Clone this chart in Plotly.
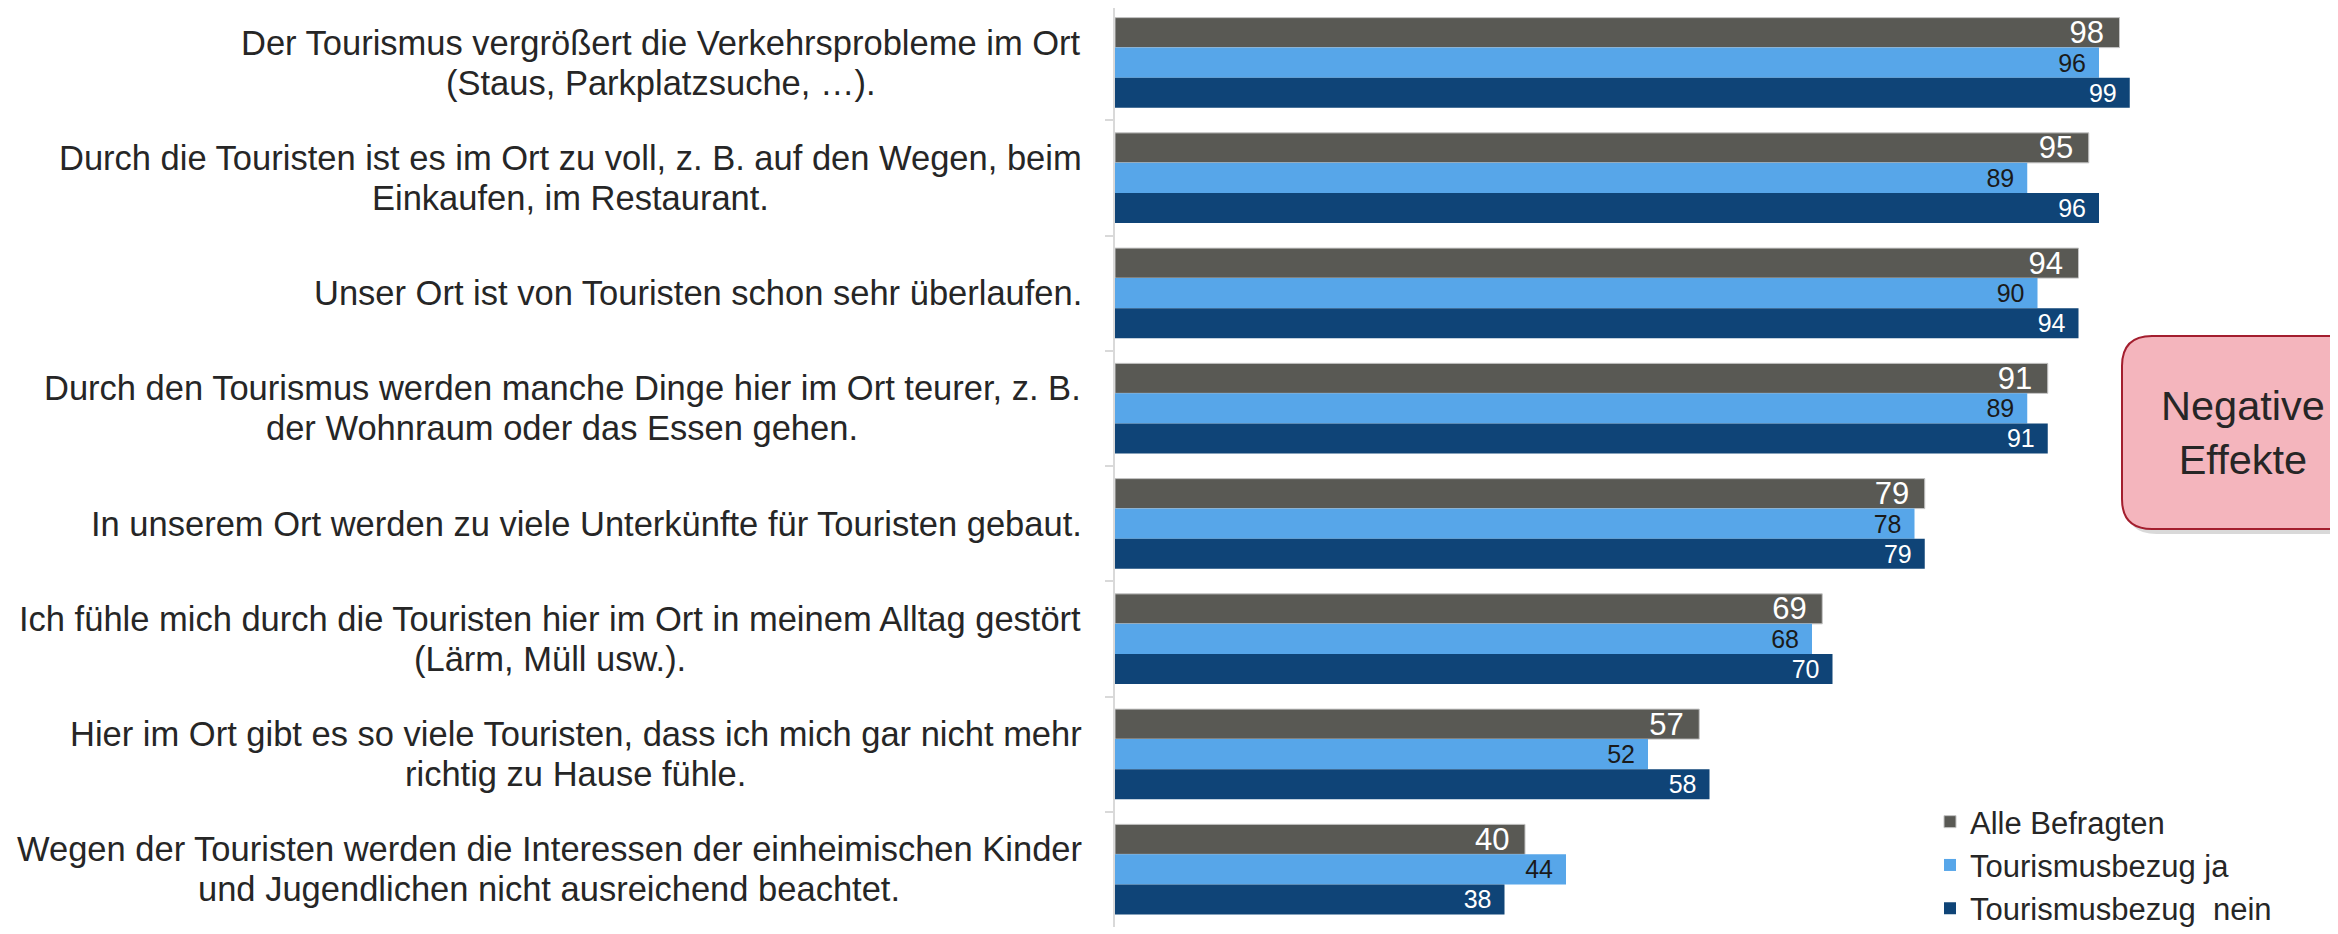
import plotly.graph_objects as go

categories = [
    "Der Tourismus vergrößert die Verkehrsprobleme im Ort<br>(Staus, Parkplatzsuche, …).",
    "Durch die Touristen ist es im Ort zu voll, z. B. auf den Wegen, beim<br>Einkaufen, im Restaurant.",
    "Unser Ort ist von Touristen schon sehr überlaufen.",
    "Durch den Tourismus werden manche Dinge hier im Ort teurer, z. B.<br>der Wohnraum oder das Essen gehen.",
    "In unserem Ort werden zu viele Unterkünfte für Touristen gebaut.",
    "Ich fühle mich durch die Touristen hier im Ort in meinem Alltag gestört<br>(Lärm, Müll usw.).",
    "Hier im Ort gibt es so viele Touristen, dass ich mich gar nicht mehr<br>richtig zu Hause fühle.",
    "Wegen der Touristen werden die Interessen der einheimischen Kinder<br>und Jugendlichen nicht ausreichend beachtet.",
]
alle_befragten = [98, 95, 94, 91, 79, 69, 57, 40]
bezug_ja = [96, 89, 90, 89, 78, 68, 52, 44]
bezug_nein = [99, 96, 94, 91, 79, 70, 58, 38]
series_names = ["Alle Befragten", "Tourismusbezug ja", "Tourismusbezug\u00a0 nein"]
box_text = "Negative<br>Effekte"

FONT = "Liberation Sans, Arial, sans-serif"
OFF = 8                      # page offset of the figure (body margin)
W, H = 2338 - OFF, 934 - OFF
Lf, Rf, Tf, Bf = 1107, 2132, 0, 919   # plot area in figure pixels


def px_x(p):  # reference page pixel -> paper x
    return (p - OFF - Lf) / (Rf - Lf)


def px_y(p):  # reference page pixel -> paper y
    return (Bf - (p - OFF)) / (Bf - Tf)


# Arial / Liberation Sans advance widths (em) for centering label lines
_W = {
    **{c: .556 for c in "abdeghnopquäöü0123456789"},
    "c": .5, "f": .278, "i": .222, "j": .222, "k": .5, "l": .222, "m": .833,
    "r": .333, "s": .5, "t": .278, "v": .5, "w": .722, "x": .5, "y": .5, "z": .5,
    "A": .667, "B": .667, "C": .722, "D": .722, "E": .667, "F": .611, "G": .778,
    "H": .722, "I": .278, "J": .5, "K": .667, "L": .556, "M": .833, "N": .722,
    "O": .778, "P": .667, "R": .722, "S": .667, "T": .611, "U": .722, "V": .667,
    "W": .944, "Z": .611, "ß": .611, " ": .278, ",": .278, ".": .278,
    "(": .333, ")": .333, "…": 1.0, "-": .333,
}


def text_em(s):
    return sum(_W.get(c, .556) for c in s)


fig = go.Figure()
specs = [
    (series_names[0], alle_befragten, "#595954", "white", 31, dict(color="#c4c4c4", width=1)),
    (series_names[1], bezug_ja, "#57A6E9", "#1a1a1a", 25, dict(width=0)),
    (series_names[2], bezug_nein, "#0F4477", "white", 25, dict(width=0)),
]
for i, (name, vals, col, tcol, tsize, line) in enumerate(specs):
    fig.add_trace(go.Bar(
        y=categories, x=vals, orientation="h", name=name,
        marker=dict(color=col, line=line),
        text=[f"{v}\u2009\u2009" for v in vals],
        textposition="inside", insidetextanchor="end",
        textfont=dict(size=tsize, color=tcol, family=FONT),
        constraintext="none", legendgroup=f"g{i}",
        hoverinfo="x+y",
    ))

# category labels: lines centered on each other, block right-aligned by the axis
LBL_SIZE = 34.5
LINE_H = 40
GAP = 31
for cat in categories:
    lines = cat.split("<br>")
    n = len(lines)
    block_w = max(text_em(s) for s in lines) * LBL_SIZE
    for j, ln in enumerate(lines):
        fig.add_annotation(
            x=0, xref="paper", y=cat, yref="y",
            text=ln, showarrow=False, xanchor="center", yanchor="middle",
            xshift=-GAP - block_w / 2, yshift=((n - 1) / 2 - j) * LINE_H,
            font=dict(size=LBL_SIZE, color="#262626", family=FONT),
        )


# rounded box
def rounded_path(x0, y0, x1, y1, r):
    pts = [
        ("M", [(x0 + r, y0)]),
        ("L", [(x1 - r, y0)]),
        ("Q", [(x1, y0), (x1, y0 + r)]),
        ("L", [(x1, y1 - r)]),
        ("Q", [(x1, y1), (x1 - r, y1)]),
        ("L", [(x0 + r, y1)]),
        ("Q", [(x0, y1), (x0, y1 - r)]),
        ("L", [(x0, y0 + r)]),
        ("Q", [(x0, y0), (x0 + r, y0)]),
    ]
    s = ""
    for cmd, ps in pts:
        s += cmd + " ".join(f"{px_x(a):.5f},{px_y(b):.5f}" for a, b in ps) + " "
    return s + "Z"


bx0, by0, bx1, by1 = 2122, 336, 2380, 529
fig.add_shape(type="path", xref="paper", yref="paper",
              path=rounded_path(bx0 + 4, by0 + 5, bx1 + 4, by1 + 5, 30),
              fillcolor="rgba(0,0,0,0.15)", line=dict(width=0))
fig.add_shape(type="path", xref="paper", yref="paper",
              path=rounded_path(bx0, by0, bx1, by1, 30),
              fillcolor="#F4B5BD", line=dict(color="#A31E2E", width=2))
fig.add_annotation(x=px_x(2243), y=px_y(432), xref="paper", yref="paper",
                   text=box_text, showarrow=False, xanchor="center", yanchor="middle",
                   font=dict(size=41.5, color="#262626", family=FONT))

# category axis range: category 1 top boundary sits 3px above the plot top
pitch = 115.25
fig.update_layout(
    width=W, height=H,
    margin=dict(l=Lf, r=W - Rf, t=Tf, b=H - Bf, autoexpand=False),
    paper_bgcolor="white", plot_bgcolor="white",
    barmode="group", bargap=0.219, bargroupgap=0,
    font=dict(family=FONT, color="#262626"),
    showlegend=True,
    legend=dict(
        x=px_x(1930), y=px_y(795), xanchor="left", yanchor="top",
        xref="paper", yref="paper",
        font=dict(size=31, color="#262626", family=FONT),
        bgcolor="rgba(0,0,0,0)", traceorder="normal", tracegroupgap=7,
    ),
    xaxis=dict(range=[0, 100], visible=False, fixedrange=True),
    yaxis=dict(
        range=[len(categories) - 0.5, -0.5 + 3 / pitch],
        showticklabels=False,
        ticks="outside", tickson="boundaries", ticklen=8, tickwidth=2,
        tickcolor="#d9d9d9", showline=True, linecolor="#d9d9d9", linewidth=2,
        showgrid=False, zeroline=False,
    ),
)

fig.write_html("out.html")
